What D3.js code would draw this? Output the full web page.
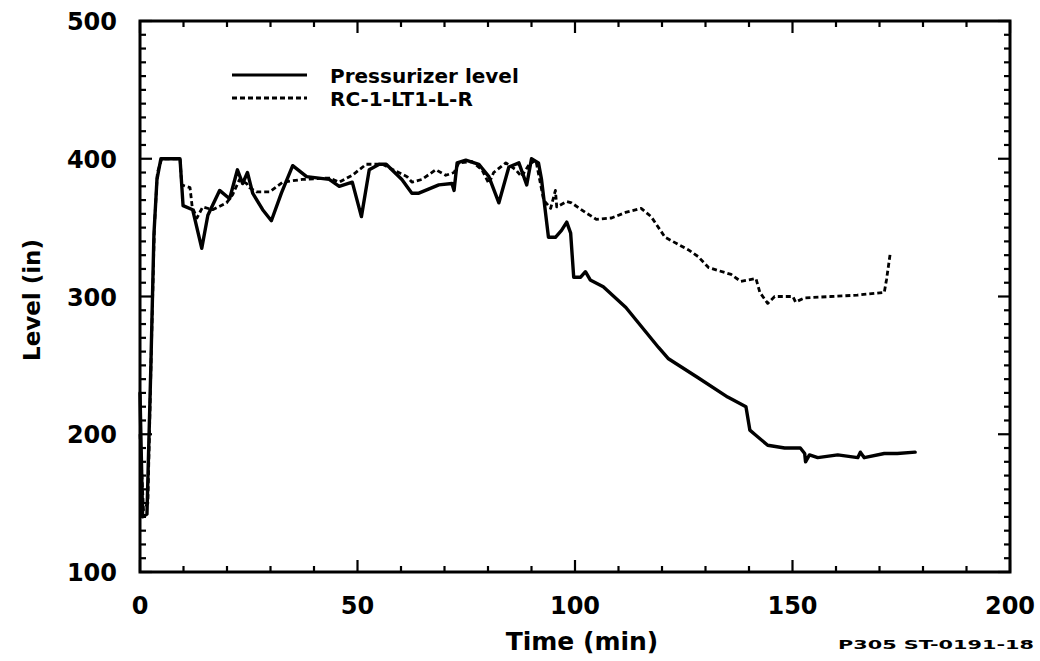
<!DOCTYPE html>
<html>
<head>
<meta charset="utf-8">
<script src="https://d3js.org/d3.v7.min.js"></script>
<style>
  body { margin: 0; background: #fff; }
  svg { display: block; }
  text { font-family: "DejaVu Sans", sans-serif; font-weight: bold; fill: #000; }
</style>
</head>
<body>
<svg width="1040" height="661"></svg>
<script>
//*
//* Data
//*

var seriesNames = ["Pressurizer level", "RC-1-LT1-L-R"];

var pzrTime = [0, 0.6, 1.6, 2.5, 3.2, 3.9, 4.8, 9.2, 9.9, 12.1, 14.2, 15.6, 18.3, 20.6, 22.4,
  23.6, 24.7, 25.9, 28.2, 30.2, 32.5, 35.1, 38.3, 43.5, 45.8, 48.8, 50.9, 52.7, 55, 56.6,
  60.2, 62.5, 64.1, 68.7, 71.7, 72.2, 72.9, 74.9, 77.9, 80.2, 82.5, 84.8, 87.1, 88.9, 90,
  91.6, 92.3, 93.9, 95.5, 96.9, 98.1, 99, 99.7, 101.3, 102.4, 103.5, 106.5, 111.7, 119.2,
  121.4, 128.3, 135.1, 139.3, 140.2, 141.3, 144.3, 148.2, 151.8, 152.8, 153, 153.9, 155.8,
  160.4, 165, 165.6, 166.5, 171.1, 174.1, 178.2];
var pzrLevel = [230, 140, 142, 250, 345, 385, 400, 400, 366, 363, 335, 359, 377, 371, 392,
  382, 390, 375, 363, 355, 375, 395, 387, 385, 380, 383, 358, 392, 396, 396,
  385, 375, 375, 381, 382, 377, 397, 399, 396, 387, 368, 394, 397, 381, 400,
  397, 385, 343, 343, 348, 354, 346, 314, 314, 318, 312, 307, 292, 263,
  255, 241, 227, 220, 203, 200, 192, 190, 190, 186, 180, 185, 183,
  185, 183, 187, 183, 186, 186, 187];

var rcTime = [0, 0.8, 1.8, 2.6, 3.3, 4.0, 5.0, 9.2, 9.6, 11.5, 12, 13.1, 14.4, 16.7, 19.9,
  21.3, 22.9, 24.5, 25.2, 26.8, 29.8, 32.8, 37.3, 43.5, 45.8, 48.8, 52, 55.7, 61.4, 62.5,
  64.8, 68, 70.3, 72.2, 73.3, 76.3, 78.6, 80.2, 81.3, 84.1, 86.4, 87.7, 89.5, 91, 92.8,
  94.4, 95.5, 95.8, 98.1, 99.2, 102.4, 104.9, 108.4, 111.6, 115.2, 117.5, 120.7, 126,
  128.3, 130.7, 135.9, 138.1, 141.6, 142.5, 144.3, 145.9, 150.1, 150.7, 152.8, 158.8,
  164.9, 171.1, 171.6, 172.5];
var rcLevel = [200, 145, 150, 260, 350, 390, 400, 400, 381, 379, 365, 357, 365, 363, 368,
  374, 385, 382, 379, 376, 376, 383, 385, 386, 383, 388, 396, 396, 387, 383,
  385, 392, 388, 390, 397, 398, 392, 382, 390, 397, 392, 387, 396, 399, 370,
  364, 377, 365, 369, 368, 361, 356, 357, 361, 364, 358, 343, 334,
  329, 321, 316, 311, 313, 303, 295, 300, 300, 296, 299, 300,
  301, 303, 312, 332];

var xTicks = [0, 50, 100, 150, 200];
var yTicks = [100, 200, 300, 400, 500];

//*
//* Chart
//*

var svg = d3.select("svg");
// plot box in pixels (note: "top" is a reserved window global)
var pL = 140, pR = 1010, pT = 21, pB = 572;

var x = d3.scaleLinear().domain([0, 200]).range([pL, pR]);
var y = d3.scaleLinear().domain([100, 500]).range([pB, pT]);

var minorX = d3.range(0, 201, 10);
var minorY = d3.range(100, 501, 10);

function tickLen(v, step) { return v % step === 0 ? 12 : 6; }

/* frame */
svg.append("rect")
  .attr("x", pL).attr("y", pT)
  .attr("width", pR - pL).attr("height", pB - pT)
  .attr("fill", "none")
  .attr("stroke", "#000")
  .attr("stroke-width", 3);

/* inward ticks on all four sides */
var ticks = svg.append("g").attr("stroke", "#000").attr("stroke-width", 2.2);
ticks.selectAll("line.b").data(minorX).enter().append("line")
  .attr("x1", function(d) { return x(d); }).attr("x2", function(d) { return x(d); })
  .attr("y1", pB).attr("y2", function(d) { return pB - tickLen(d, 50); });
ticks.selectAll("line.t").data(minorX).enter().append("line")
  .attr("x1", function(d) { return x(d); }).attr("x2", function(d) { return x(d); })
  .attr("y1", pT).attr("y2", function(d) { return pT + tickLen(d, 50); });
ticks.selectAll("line.l").data(minorY).enter().append("line")
  .attr("y1", function(d) { return y(d); }).attr("y2", function(d) { return y(d); })
  .attr("x1", pL).attr("x2", function(d) { return pL + tickLen(d, 100); });
ticks.selectAll("line.r").data(minorY).enter().append("line")
  .attr("y1", function(d) { return y(d); }).attr("y2", function(d) { return y(d); })
  .attr("x1", pR).attr("x2", function(d) { return pR - tickLen(d, 100); });

/* tick labels */
svg.selectAll("text.xl").data(xTicks).enter().append("text")
  .attr("x", function(d) { return x(d); })
  .attr("y", 614)
  .attr("text-anchor", "middle")
  .style("font-size", "24px")
  .text(function(d) { return d; });

svg.selectAll("text.yl").data(yTicks).enter().append("text")
  .attr("x", 117)
  .attr("y", function(d) { return y(d) + 9; })
  .attr("text-anchor", "end")
  .style("font-size", "24px")
  .text(function(d) { return d; });

/* axis titles */
svg.append("text")
  .attr("x", 582).attr("y", 650)
  .attr("text-anchor", "middle")
  .style("font-size", "25px")
  .text("Time (min)");

svg.append("text")
  .attr("transform", "translate(40,300) rotate(-90)")
  .attr("text-anchor", "middle")
  .style("font-size", "23px")
  .text("Level (in)");

svg.append("text")
  .attr("x", 838).attr("y", 649)
  .attr("textLength", 196)
  .attr("lengthAdjust", "spacingAndGlyphs")
  .style("font-size", "12px")
  .text("P305 ST-0191-18");

/* data lines */
var line = d3.line()
  .x(function(d) { return x(d[0]); })
  .y(function(d) { return y(d[1]); });

var pzr = d3.zip(pzrTime, pzrLevel);
var rc = d3.zip(rcTime, rcLevel);

svg.append("path")
  .datum(rc)
  .attr("d", line)
  .attr("fill", "none")
  .attr("stroke", "#000")
  .attr("stroke-width", 2.8)
  .attr("stroke-linejoin", "round")
  .attr("stroke-dasharray", "5,3");

svg.append("path")
  .datum(pzr)
  .attr("d", line)
  .attr("fill", "none")
  .attr("stroke", "#000")
  .attr("stroke-width", 3.4)
  .attr("stroke-linejoin", "round")
  .attr("stroke-linecap", "round");

/* legend */
var legend = svg.append("g");
var dashes = [null, "5,3"];
seriesNames.forEach(function(name, i) {
  var ly = 75 + i * 23;
  legend.append("line")
    .attr("x1", 232).attr("x2", 307)
    .attr("y1", ly).attr("y2", ly)
    .attr("stroke", "#000")
    .attr("stroke-width", i === 0 ? 3.2 : 2.8)
    .attr("stroke-dasharray", dashes[i]);
  legend.append("text")
    .attr("x", 330).attr("y", ly + 8)
    .style("font-size", "20px")
    .text(name);
});
</script>
</body>
</html>
